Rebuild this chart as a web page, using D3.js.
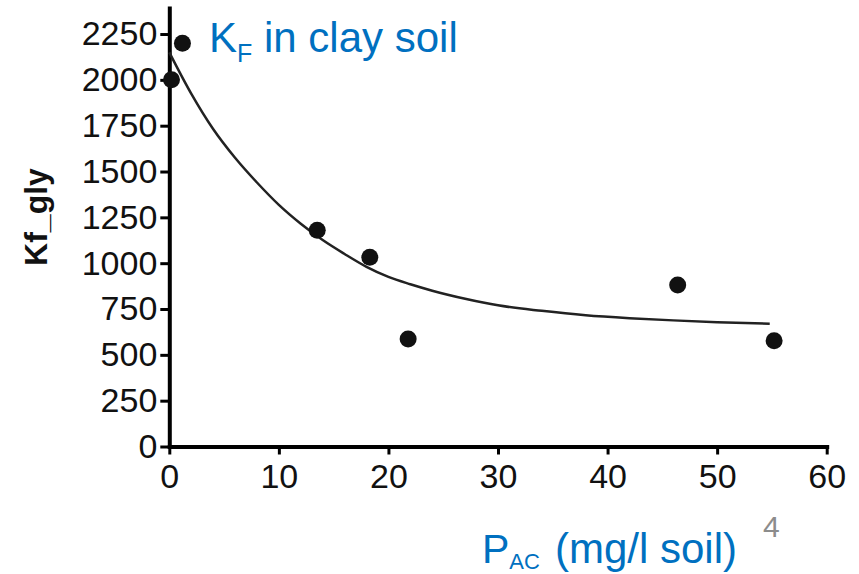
<!DOCTYPE html>
<html>
<head>
<meta charset="utf-8">
<script src="https://cdn.jsdelivr.net/npm/d3@7"></script>
<style>
  html, body { margin: 0; padding: 0; background: #fff; }
  svg { display: block; }
  text { font-family: "Liberation Sans", Arial, sans-serif; }
</style>
</head>
<body>
<svg id="chart" width="859" height="574"></svg>
<script>
// ---- data ----
const pacValues = [0.2, 1.2, 13.5, 18.3, 21.8, 46.4, 55.2];
const kfValues  = [2000, 2200, 1180, 1032, 586, 881, 577];

// fitted decay curve, sampled (and hand-smoothed) from the picture
const fitX = [0, 2, 4, 6, 8, 10, 12, 14, 16, 18, 20, 22, 24, 27, 30, 34, 38, 42, 46, 50, 54.8];
const fitY = [2150, 1925, 1732, 1575, 1440, 1318, 1215, 1126, 1050, 980, 925, 885, 850, 806, 770, 740, 716, 700, 688, 678, 670];

const xTicks = [0, 10, 20, 30, 40, 50, 60];
const yTicks = [0, 250, 500, 750, 1000, 1250, 1500, 1750, 2000, 2250];

const svg = d3.select("#chart");
svg.append("rect").attr("width", 859).attr("height", 574).attr("fill", "#fff");

const x = d3.scaleLinear().domain([0, 60]).range([169.3, 826.7]);
const y = d3.scaleLinear().domain([0, 2392]).range([446.5, 8]);

// axes
const xAxis = svg.append("g")
  .attr("transform", `translate(0,${y(0)})`)
  .call(d3.axisBottom(x).tickValues(xTicks).tickFormat(d3.format("d"))
    .tickSize(8).tickSizeOuter(0).tickPadding(9));
const yAxis = svg.append("g")
  .attr("transform", `translate(${x(0)},0)`)
  .call(d3.axisLeft(y).tickValues(yTicks).tickFormat(d3.format("d"))
    .tickSize(9).tickSizeOuter(0).tickPadding(3));

[xAxis, yAxis].forEach(g => {
  g.select(".domain").attr("stroke", "#000").attr("stroke-width", 4).attr("stroke-linecap", "square");
  g.selectAll(".tick line").attr("stroke", "#000").attr("stroke-width", 3);
  g.selectAll(".tick text")
    .attr("fill", "#111")
    .style("font-size", "34px")
    .style("font-family", "'Liberation Sans', Arial, sans-serif");
});

// fitted curve
const pts = fitX.map((d, i) => [d, fitY[i]]);
svg.append("path")
  .datum(pts)
  .attr("fill", "none")
  .attr("stroke", "#222")
  .attr("stroke-width", 2.5)
  .attr("d", d3.line().x(d => x(d[0])).y(d => y(d[1])).curve(d3.curveMonotoneX));

// data points
svg.append("g").selectAll("circle")
  .data(pacValues.map((d, i) => [d, kfValues[i]]))
  .join("circle")
  .attr("cx", d => x(d[0]))
  .attr("cy", d => y(d[1]))
  .attr("r", 8.5)
  .attr("fill", "#111");

// y axis title
svg.append("text")
  .attr("transform", "translate(47,217) rotate(-90)")
  .attr("text-anchor", "middle")
  .attr("fill", "#111")
  .style("font-size", "32px")
  .style("font-weight", "bold")
  .text("Kf_gly");

// title K_F in clay soil
const blue = "#0070C0";
const title = svg.append("text")
  .attr("x", 209).attr("y", 52)
  .attr("fill", blue)
  .style("font-size", "42px");
title.append("tspan").text("K");
title.append("tspan").attr("dy", 10).style("font-size", "25px").text("F");
title.append("tspan").attr("dy", -10).attr("x", 264).text("in clay soil");

// x axis title P_AC (mg/l soil)
const xt = svg.append("text")
  .attr("x", 482).attr("y", 563)
  .attr("fill", blue)
  .style("font-size", "41px");
xt.append("tspan").text("P");
xt.append("tspan").attr("dy", 6).style("font-size", "22px").text("AC");
xt.append("tspan").attr("dy", -6).attr("x", 555).style("font-size", "42px").text("(mg/l soil)");

// page number
svg.append("text")
  .attr("x", 763).attr("y", 537)
  .attr("fill", "#8c8c8c")
  .style("font-size", "30px")
  .text("4");
</script>
</body>
</html>
